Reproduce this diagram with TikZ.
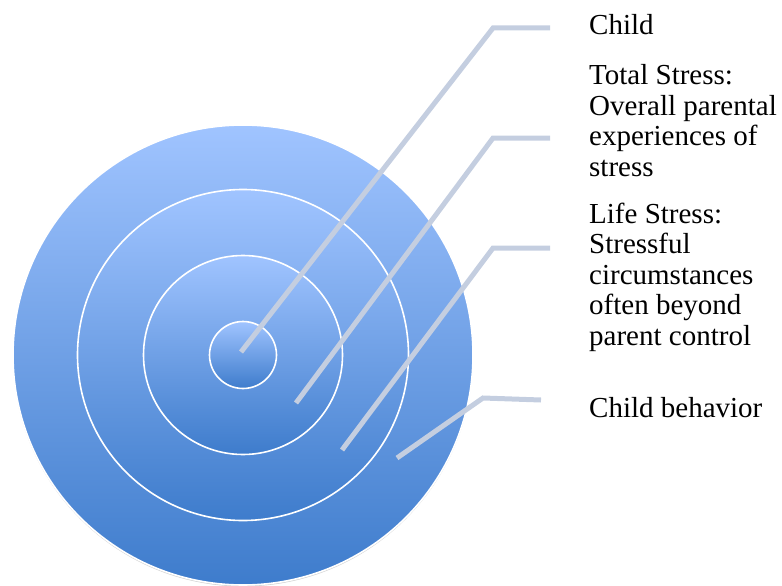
\documentclass[tikz,border=0pt]{standalone}
\usepackage{fontspec}
\setmainfont{Liberation Serif}
\usetikzlibrary{shadows}
\definecolor{ringtop}{RGB}{160,196,255}
\definecolor{ringbot}{RGB}{62,124,204}
\definecolor{leader}{RGB}{196,206,224}
\tikzset{
  ring/.style={circle, draw=white, line width=1.6pt, top color=ringtop, bottom color=ringbot, shading=axis, inner sep=0pt, minimum size=#1},
  lead/.style={draw=leader, line width=5pt, line join=miter},
  lbl/.style={anchor=base west, inner sep=0pt, align=left, font=\fontsize{29}{30.5}\selectfont, text=black}
}
\begin{document}
\begin{tikzpicture}[x=1pt,y=-1pt]
\useasboundingbox (0,0) rectangle (782,586);
% rings
\node[ring=460pt, drop shadow={shadow xshift=0pt, shadow yshift=-1.5pt, opacity=0.35}] (r4) at (243,355) {};
\node[ring=331pt] (r3) at (243,355) {};
\node[ring=199pt] (r2) at (243,355) {};
\node[ring=67pt] (r1) at (243,355) {};
% leader anchor points
\coordinate (s1) at (241,352);
\coordinate (e1) at (493,28);
\coordinate (f1) at (550,28);
\coordinate (s2) at (296,403);
\coordinate (e2) at (493,138);
\coordinate (f2) at (550,138);
\coordinate (s3) at (342,450);
\coordinate (e3) at (493,248);
\coordinate (f3) at (550,248);
\coordinate (s4) at (397,458);
\coordinate (e4) at (483,398);
\coordinate (f4) at (541,400);
\draw[lead] (s1) -- (e1) -- (f1);
\draw[lead] (s2) -- (e2) -- (f2);
\draw[lead] (s3) -- (e3) -- (f3);
\draw[lead] (s4) -- (e4) -- (f4);
% labels (anchored at the baseline of their last line)
\node[lbl] (t1) at (589,35) {Child};
\node[lbl] (t2) at (589,176) {Total Stress:\\Overall parental\\experiences of\\stress};
\node[lbl] (t3) at (589,345) {Life Stress:\\Stressful\\circumstances\\often beyond\\parent control};
\node[lbl] (t4) at (589,417) {Child behavior};
\end{tikzpicture}
\end{document}
